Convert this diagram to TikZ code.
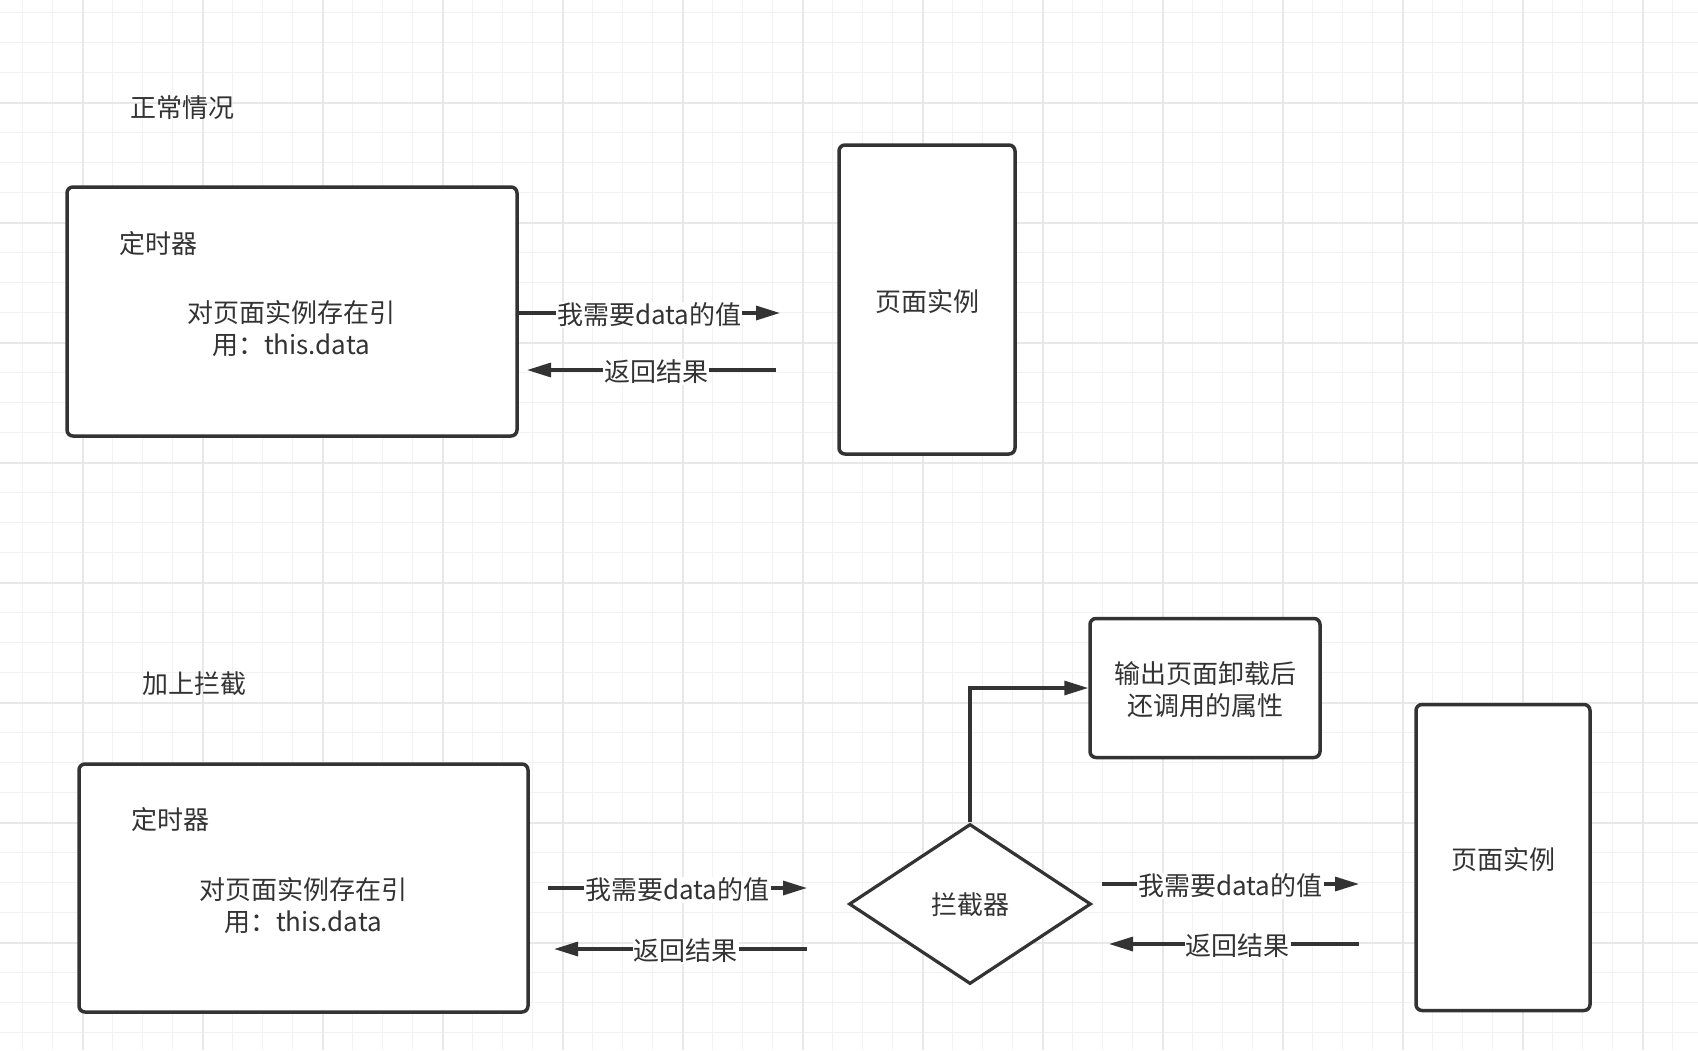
\documentclass[tikz,border=0pt]{standalone}
\usepackage{fontspec}
\setmainfont{Noto Sans CJK SC}
\usetikzlibrary{arrows.meta,shapes.geometric}
\definecolor{ink}{HTML}{333333}
\definecolor{gridminor}{HTML}{F2F2F2}
\definecolor{gridmajor}{HTML}{E8E8E8}
\begin{document}
\begin{tikzpicture}[x=1pt,y=-1pt,
  every node/.style={font=\fontsize{26}{32}\selectfont, text=ink},
  box/.style={draw=ink, line width=3.5pt, rounded corners=6pt, fill=white, inner sep=0pt, align=center},
  arr/.style={draw=ink, line width=3.2pt, -{Triangle[length=24pt,width=14pt]}},
  lbl/.style={fill=white, inner sep=1pt, yshift=-2pt},
  minorline/.style={draw=gridminor, line width=1.3pt},
  majorline/.style={draw=gridmajor, line width=1.8pt},
  ]
\fill[white] (0,0) rectangle (1698,1050);
\useasboundingbox (0,0) rectangle (1698,1050);
% grid
\foreach \i in {0,...,56} \draw[minorline] ({22.7+30*\i},0) -- ({22.7+30*\i},1050);
\foreach \j in {0,...,34} \draw[minorline] (0,{12.7+30*\j}) -- (1698,{12.7+30*\j});
\foreach \i in {0,...,13} \draw[majorline] ({82.7+120*\i},0) -- ({82.7+120*\i},1050);
\foreach \j in {0,...,7} \draw[majorline] (0,{102.7+120*\j}) -- (1698,{102.7+120*\j});

% ---------- top: normal case ----------
\node (title1) at (182,108) {正常情况};
\node[box, minimum width=450pt, minimum height=249pt] (timer1) at (292,311.5) {};
\node (timer1lbl) at (158,244) {定时器};
\node[align=center] (timer1txt) at (291,329) {对页面实例存在引\\用：this.data};
\node[box, minimum width=176pt, minimum height=309pt] (page1) at (927,299.5) {};
\node (page1txt) at (page1.center) [yshift=-2pt] {页面实例};

\coordinate (a1e) at (780,313);
\draw[arr] (timer1.east |- a1e) -- node[lbl, midway] (a1l) {我需要data的值} (a1e);
\coordinate (a2s) at (776,370);
\coordinate (a2e) at (527,370);
\draw[arr] (a2s) -- node[lbl, pos=0.48] (a2l) {返回结果} (a2e);

% ---------- bottom: with interceptor ----------
\node (title2) at (194,684) {加上拦截};
\node[box, minimum width=449pt, minimum height=248pt] (timer2) at (303.5,888) {};
\node (timer2lbl) at (170,820) {定时器};
\node[align=center] (timer2txt) at (303,906) {对页面实例存在引\\用：this.data};

\node[draw=ink, line width=3.2pt, diamond, fill=white, inner sep=0pt,
      minimum width=242pt, minimum height=160pt] (dia) at (970,904) {};
\node (diatxt) at (dia.center) [yshift=-1pt] {拦截器};
\node[box, minimum width=230pt, minimum height=139pt] (out) at (1205,688) {};
\node[align=center] (outtxt) at (out.center) [yshift=-2pt] {输出页面卸载后\\还调用的属性};
\draw[arr, rounded corners=0pt] (dia.north) |- (out.west);

\node[box, minimum width=174pt, minimum height=306pt] (page2) at (1503,857.5) {};
\node (page2txt) at (page2.center) [yshift=-2pt] {页面实例};

\coordinate (b1s) at (548,888);
\coordinate (b1e) at (807,888);
\draw[arr] (b1s) -- node[lbl, midway] (b1l) {我需要data的值} (b1e);
\coordinate (b2s) at (807,949);
\coordinate (b2e) at (554,949);
\draw[arr] (b2s) -- node[lbl, pos=0.48] (b2l) {返回结果} (b2e);

\coordinate (c1s) at (1102,884);
\coordinate (c1e) at (1359,884);
\draw[arr] (c1s) -- node[lbl, midway] (c1l) {我需要data的值} (c1e);
\coordinate (c2s) at (1359,944);
\coordinate (c2e) at (1109,944);
\draw[arr] (c2s) -- node[lbl, pos=0.485] (c2l) {返回结果} (c2e);
\end{tikzpicture}
\end{document}
